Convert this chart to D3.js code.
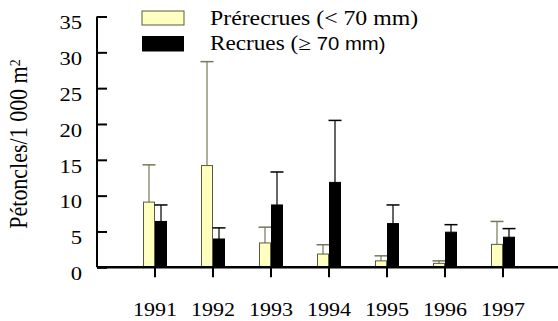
<!DOCTYPE html>
<html>
<head>
<meta charset="utf-8">
<script src="https://cdn.jsdelivr.net/npm/d3@7"></script>
<style>
  body { margin: 0; background: #fff; }
  svg text { font-family: "Liberation Serif", "Times New Roman", serif; fill: #000; }
</style>
</head>
<body>
<div id="chart"></div>
<script>
// data
const years = ["1991", "1992", "1993", "1994", "1995", "1996", "1997"];
const prerecrues = [9.1, 14.2, 3.4, 1.85, 0.9, 0.55, 3.2];
const prerecruesErr = [14.3, 28.7, 5.6, 3.15, 1.6, 0.9, 6.4];
const recrues = [6.4, 3.95, 8.7, 11.85, 6.1, 4.9, 4.2];
const recruesErr = [8.7, 5.5, 13.3, 20.5, 8.7, 5.95, 5.4];
const yTicks = [0, 5, 10, 15, 20, 25, 30, 35];

const width = 558, height = 321;
const margin = {top: 16.5, right: 0, bottom: 54, left: 97};
const stretch = 1.16; // the reference text is a bit wider than the font

const svg = d3.select("#chart").append("svg")
    .attr("width", width)
    .attr("height", height);

// scales
let x = d3.scaleBand()
    .domain(years)
    .range([126, 532])
    .padding(0);

let y = d3.scaleLinear()
    .domain([0, 35])
    .range([267.3, 16.5]);

const barW = 12;
const capW = 13;

let series = [
    {name: "pre", vals: prerecrues, err: prerecruesErr, fill: "#ffffc0", stroke: "#5a5a40", errColor: "#77775c", offset: -barW},
    {name: "rec", vals: recrues, err: recruesErr, fill: "#000", stroke: "#000", errColor: "#000", offset: 0}
];

series.forEach(function(s) {
    let g = svg.append("g").attr("class", "series-" + s.name);
    let rows = years.map((yr, i) => ({year: yr, v: s.vals[i], e: s.err[i]}));
    let cx = d => x(d.year) + x.bandwidth() / 2 + s.offset + barW / 2;

    // error bars (upper only)
    g.selectAll(".err")
        .data(rows)
        .enter().append("line")
        .attr("x1", cx)
        .attr("x2", cx)
        .attr("y1", d => y(d.v))
        .attr("y2", d => y(d.e))
        .attr("stroke", s.errColor)
        .attr("stroke-width", 1.2);

    g.selectAll(".cap")
        .data(rows)
        .enter().append("line")
        .attr("x1", d => cx(d) - capW / 2)
        .attr("x2", d => cx(d) + capW / 2)
        .attr("y1", d => y(d.e))
        .attr("y2", d => y(d.e))
        .attr("stroke", s.errColor)
        .attr("stroke-width", 1.5);

    g.selectAll(".bar")
        .data(rows)
        .enter().append("rect")
        .attr("x", d => x(d.year) + x.bandwidth() / 2 + s.offset + 0.5)
        .attr("y", d => y(d.v))
        .attr("width", barW - 1)
        .attr("height", d => y(0) - y(d.v))
        .attr("fill", s.fill)
        .attr("stroke", s.stroke)
        .attr("stroke-width", 1);
});

// y axis
let yAxis = d3.axisRight(y)
    .tickValues(yTicks)
    .tickSize(10)
    .tickFormat("");
let yG = svg.append("g")
    .attr("transform", `translate(${margin.left}, 0)`)
    .call(yAxis);
yG.select(".domain").attr("stroke", "#000").attr("stroke-width", 2)
    .attr("d", `M0,${y(35)}V${y(0)}`);
yG.selectAll(".tick line").attr("stroke", "#000").attr("stroke-width", 2);

svg.selectAll(".ylab")
    .data(yTicks)
    .enter().append("text")
    .attr("transform", d => `translate(82, ${y(d) + 6}) scale(${stretch}, 1)`)
    .attr("dy", "0.35em")
    .attr("text-anchor", "end")
    .style("font-size", "19.5px")
    .text(d => d);

// x axis
let xAxis = d3.axisBottom(x)
    .tickSize(10)
    .tickFormat("");
let xG = svg.append("g")
    .attr("transform", `translate(0, ${y(0)})`)
    .call(xAxis);
xG.select(".domain").attr("stroke", "#000").attr("stroke-width", 2.5)
    .attr("d", `M${margin.left},0H${width}`);
xG.selectAll(".tick line").attr("stroke", "#000").attr("stroke-width", 2);

svg.selectAll(".xlab")
    .data(years)
    .enter().append("text")
    .attr("transform", d => `translate(${x(d) + x.bandwidth() / 2}, 316) scale(${stretch}, 1)`)
    .attr("text-anchor", "middle")
    .style("font-size", "19px")
    .text(d => d);

// y axis title
let yt = svg.append("text")
    .attr("transform", "translate(27, 144) rotate(-90) scale(1, 1.1)")
    .attr("text-anchor", "middle")
    .style("font-size", "22px");
yt.append("tspan").text("Pétoncles/1 000 m");
yt.append("tspan").attr("dy", "-0.45em").style("font-size", "14px").text("2");

// legend
svg.append("rect").attr("x", 142).attr("y", 11).attr("width", 42).attr("height", 14)
    .attr("fill", "#ffffc0").attr("stroke", "#5a5a40");
svg.append("rect").attr("x", 142).attr("y", 36).attr("width", 42).attr("height", 15.5)
    .attr("fill", "#000");

svg.append("text").attr("transform", `translate(210, 25) scale(${stretch}, 1)`)
    .style("font-size", "20.5px")
    .text("Prérecrues (< 70 mm)");
let l2 = svg.append("text").attr("transform", `translate(210, 50) scale(${stretch}, 1)`)
    .style("font-size", "20px");
l2.append("tspan").text("Recrues (≥ ");
l2.append("tspan").style("font-family", "'Liberation Sans', Arial, sans-serif").style("font-size", "17.5px").text("70 mm)");
</script>
</body>
</html>
